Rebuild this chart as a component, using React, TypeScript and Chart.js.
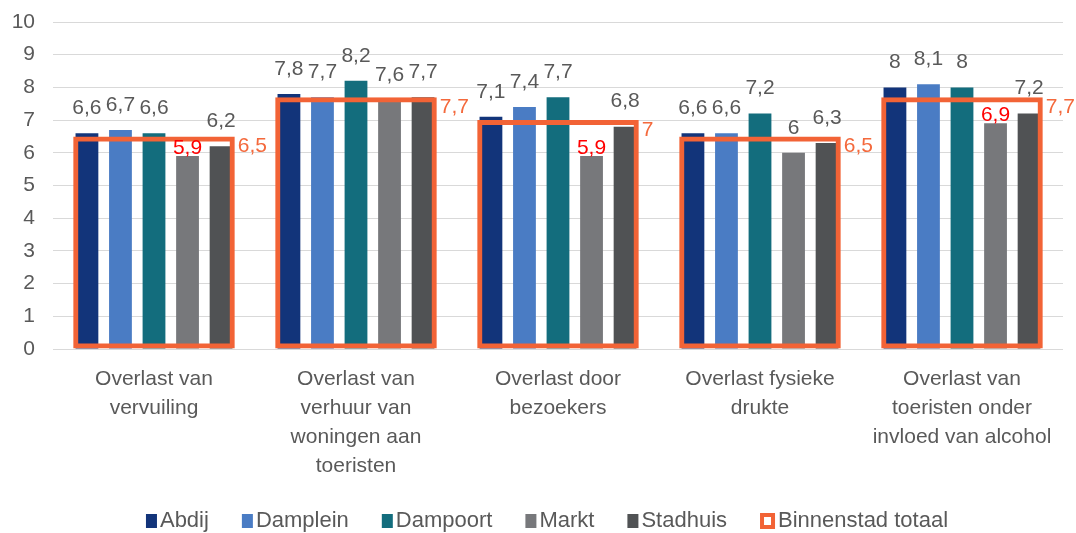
import React, { useEffect, useRef } from "react";
import { Chart, registerables } from "chart.js";

Chart.register(...registerables);

const FONT = "'Liberation Sans', Arial, sans-serif";

const categories: string[][] = [
  ["Overlast van", "vervuiling"],
  ["Overlast van", "verhuur van", "woningen aan", "toeristen"],
  ["Overlast door", "bezoekers"],
  ["Overlast fysieke", "drukte"],
  ["Overlast van", "toeristen onder", "invloed van alcohol"],
];

const seriesNames = ["Abdij", "Damplein", "Dampoort", "Markt", "Stadhuis"];
const abdij = [6.6, 7.8, 7.1, 6.6, 8.0];
const damplein = [6.7, 7.7, 7.4, 6.6, 8.1];
const dampoort = [6.6, 8.2, 7.7, 7.2, 8.0];
const markt = [5.9, 7.6, 5.9, 6.0, 6.9];
const stadhuis = [6.2, 7.7, 6.8, 6.3, 7.2];
const totaalName = "Binnenstad totaal";
const totaal = [6.5, 7.7, 7.0, 6.5, 7.7];
const yMin = 0;
const yMax = 10;
const yStep = 1;

const seriesColors = ["#12347A", "#4A7CC4", "#136D7D", "#77787B", "#505254"];
const ORANGE = "#F26336";
const ORANGE_TEXT = "#F4693C";
const TEXT = "#595959";

const fmt = (v: number) => String(v).replace(".", ",");

const valueLabels = {
  id: "valueLabels",
  afterDatasetsDraw(chart: any) {
    const ctx = chart.ctx;
    ctx.save();
    ctx.font = `21px ${FONT}`;
    ctx.textBaseline = "middle";
    chart.data.datasets.forEach((ds: any, di: number) => {
      const meta = chart.getDatasetMeta(di);
      meta.data.forEach((bar: any, i: number) => {
        const v = ds.data[i] as number;
        const txt = fmt(v);
        if (ds.isTotal) {
          ctx.fillStyle = ORANGE_TEXT;
          ctx.textAlign = "left";
          ctx.fillText(txt, bar.x + bar.width / 2 + 3, bar.y + 10);
        } else {
          const red = v <= totaal[i] - 0.55;
          ctx.fillStyle = red ? "#FF0000" : TEXT;
          ctx.textAlign = "center";
          ctx.fillText(txt, bar.x, bar.y - (red ? 8 : 25));
        }
      });
    });
    ctx.restore();
  },
};

const customLegend = {
  id: "customLegend",
  afterDraw(chart: any) {
    const ctx = chart.ctx;
    ctx.save();
    ctx.font = `22px ${FONT}`;
    ctx.textBaseline = "middle";
    ctx.textAlign = "left";
    const items = chart.data.datasets.map((ds: any) => ({
      text: ds.label as string,
      total: !!ds.isTotal,
      color: (ds.isTotal ? ds.borderColor : ds.backgroundColor) as string,
    }));
    const gapText = 3;
    const gapItem = 33;
    const widths = items.map(
      (it: any) => (it.total ? 15 : 11) + gapText + ctx.measureText(it.text).width
    );
    const total =
      widths.reduce((a: number, b: number) => a + b, 0) + gapItem * (items.length - 1);
    let x = chart.width / 2 + 9 - total / 2;
    const cy = 521;
    items.forEach((it: any) => {
      if (it.total) {
        ctx.fillStyle = it.color;
        ctx.fillRect(x, cy - 8, 15, 16);
        ctx.fillStyle = "#FFFFFF";
        ctx.fillRect(x + 4, cy - 4, 7, 8);
        x += 15;
      } else {
        ctx.fillStyle = it.color;
        ctx.fillRect(x, cy - 7, 11, 14);
        x += 11;
      }
      x += gapText;
      ctx.fillStyle = TEXT;
      ctx.fillText(it.text, x, cy);
      x += ctx.measureText(it.text).width + gapItem;
    });
    ctx.restore();
  },
};

export default function App() {
  const ref = useRef<HTMLCanvasElement | null>(null);

  useEffect(() => {
    if (!ref.current) return;
    const seriesData = [abdij, damplein, dampoort, markt, stadhuis];
    const datasets: any[] = seriesData.map((d, i) => ({
      label: seriesNames[i],
      data: d,
      backgroundColor: seriesColors[i],
      borderWidth: 0,
      categoryPercentage: 0.83,
      barPercentage: 0.68,
      order: 1,
    }));
    datasets.push({
      label: totaalName,
      data: totaal,
      isTotal: true,
      grouped: false,
      backgroundColor: "rgba(0,0,0,0)",
      borderColor: ORANGE,
      borderWidth: 5,
      borderSkipped: false,
      categoryPercentage: 0.8,
      barPercentage: 1.0,
      order: 0,
    });

    const chart = new Chart(ref.current, {
      type: "bar",
      data: { labels: categories as any, datasets },
      plugins: [valueLabels, customLegend],
      options: {
        animation: false,
        responsive: true,
        maintainAspectRatio: false,
        layout: { padding: { top: 22, right: 13, bottom: 0, left: 0 } },
        plugins: {
          legend: { display: false },
          tooltip: { enabled: false },
        },
        scales: {
          x: {
            type: "category",
            offset: true,
            grid: { display: false, drawTicks: false },
            border: { display: false },
            ticks: {
              color: TEXT,
              font: { family: FONT, size: 21, lineHeight: "29px" } as any,
              padding: 16,
              maxRotation: 0,
              minRotation: 0,
              autoSkip: false,
            },
            afterFit: (s: any) => {
              s.height = 533 - 349;
            },
          },
          y: {
            min: yMin,
            max: yMax,
            ticks: {
              stepSize: yStep,
              color: TEXT,
              font: { family: FONT, size: 21, lineHeight: "8px" } as any,
              padding: 18,
            },
            grid: { color: "#D9D9D9", lineWidth: 1, drawTicks: false },
            border: { display: false },
            afterFit: (s: any) => {
              s.width = 53;
            },
          },
        },
      } as any,
    });
    return () => chart.destroy();
  }, []);

  return (
    <div
      style={{
        position: "fixed",
        left: 0,
        top: 0,
        width: 1076,
        height: 533,
        background: "#FFFFFF",
      }}
    >
      <canvas ref={ref} />
    </div>
  );
}
